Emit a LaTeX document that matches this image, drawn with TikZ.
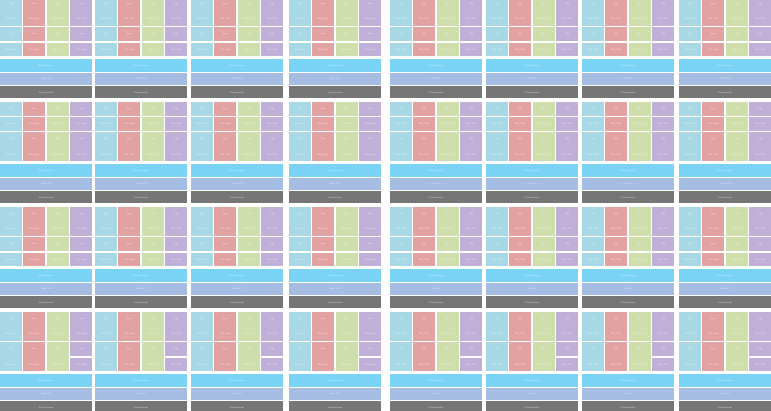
\documentclass[tikz,border=0pt]{standalone}
\usepackage{tikz}
\usetikzlibrary{positioning,calc}
\usepackage{xcolor}
\definecolor{appcyan}{RGB}{168,216,229}
\definecolor{appred}{RGB}{226,162,162}
\definecolor{appgreen}{RGB}{206,223,172}
\definecolor{apppurple}{RGB}{192,175,215}
\definecolor{enginecyan}{RGB}{122,210,244}
\definecolor{hostblue}{RGB}{165,188,227}
\definecolor{infragray}{RGB}{118,118,118}

% one row of tiles: #1 row no, #2 top y, #3 cells of columns 1-3, #4 cells of column 4
\newcommand{\tilerow}[4]{%
  \foreach \t/\X in {1/0, 2/95, 3/191, 4/289, 5/390, 6/486, 7/582, 8/679} {
    \foreach \k/\a/\b/\cc in {0/0/22/appcyan, 1/23.2/44.8/appred, 2/46.8/68.6/appgreen, 3/70.3/92.3/apppurple} {
      \ifnum\k=3 \def\lay{#4}\else\def\lay{#3}\fi
      \foreach \s/\n in \lay {
        \fill[cell=\cc] (\X+\a, {#2+\s*\subp}) rectangle (\X+\b, {#2+(\s+\n)*\subp-\subg});
      }
      \foreach \j/\txt in {0/App, 1/{Bins/Libs}, 2/App, 3/{Bins/Libs}} {
        \node[celltext] (lbl-#1-\t-\k-\j) at ({\X+(\a+\b)/2}, {#2+\j*\subp+6.9}) {\txt};
      }
    }
    \fill[enginecyan] (\X, #2+62) rectangle (\X+92.3, #2+75);
    \node[celltext] (engine-#1-\t) at (\X+46.15, #2+68.5) {Docker Engine};
    \fill[hostblue] (\X, #2+76) rectangle (\X+92.3, #2+88);
    \node[celltext] (host-#1-\t) at (\X+46.15, #2+82) {Host OS};
    \fill[infragray] (\X, #2+89.5) rectangle (\X+92.3, #2+101.5);
    \node[celltext] (infra-#1-\t) at (\X+46.15, #2+95.5) {Infrastructure};
  }%
}

\begin{document}
\begin{tikzpicture}[
    x=1pt, y=-1pt,
    cell/.style={fill=#1},
    celltext/.style={font=\fontsize{2.4}{3}\selectfont\sffamily, text=white, text opacity=0.7, inner sep=0pt}
]

\def\subp{15.2}
\def\subg{1.3}

\useasboundingbox (0,0) rectangle (771,411);
\clip (0,0) rectangle (771,411);

\tilerow{1}{-3}{0/2,2/1,3/1}{0/2,2/1,3/1}
\tilerow{2}{102}{0/1,1/1,2/2}{0/1,1/1,2/2}
\tilerow{3}{207}{0/2,2/1,3/1}{0/2,2/1,3/1}
\tilerow{4}{312}{0/2,2/2}{0/2,2/1,3/1}

\end{tikzpicture}
\end{document}
